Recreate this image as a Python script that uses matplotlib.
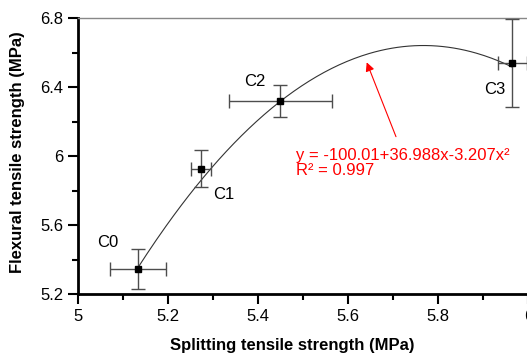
import numpy as np
import matplotlib
matplotlib.use("Agg")
import matplotlib.pyplot as plt
from matplotlib.ticker import MultipleLocator

plt.rcParams["font.family"] = ["Liberation Sans", "DejaVu Sans"]

# Datos
labels = ["C0", "C1", "C2", "C3"]
splitting = [5.133, 5.273, 5.449, 5.964]
splitting_err = [0.063, 0.022, 0.114, 0.032]
flexural = [5.345, 5.925, 6.319, 6.541]
flexural_err = [0.115, 0.107, 0.091, 0.256]

# Coeficientes del ajuste cuadrático (del texto del gráfico)
fit_coef = [-100.01, 36.988, -3.207]
fit_text = "y = -100.01+36.988x-3.207x\u00b2\nR\u00b2 = 0.997"

label_pos = [(5.065, 5.496), (5.324, 5.774), (5.392, 6.431), (5.926, 6.387)]

fig = plt.figure(figsize=(5.27, 3.56), dpi=100)
ax = fig.add_axes([78 / 527, 1 - 294 / 356, 450.4 / 527, 276 / 356])

# Curva de ajuste
xf = np.linspace(splitting[0], splitting[-1], 200)
yf = fit_coef[0] + fit_coef[1] * xf + fit_coef[2] * xf**2
ax.plot(xf, yf, color="#333333", lw=0.8, zorder=2)

ax.errorbar(
    splitting, flexural, xerr=splitting_err, yerr=flexural_err,
    fmt="s", color="black", ms=4.5, ecolor="#4d4d4d", elinewidth=1.0,
    capsize=5, capthick=1.0, zorder=3,
)

for lab, (lx, ly) in zip(labels, label_pos):
    ax.text(lx, ly, lab, fontsize=12, ha="center", va="center")

ax.annotate(
    "", xy=(5.641, 6.543), xytext=(5.706, 6.112),
    arrowprops=dict(arrowstyle="-|>", color="red", lw=0.8,
                    mutation_scale=13, shrinkA=0, shrinkB=0),
)
ax.text(5.483, 5.958, fit_text, color="red", fontsize=12,
        ha="left", va="center", linespacing=1.0)

ax.set_xlim(5, 6)
ax.set_ylim(5.2, 6.8)
ax.xaxis.set_major_locator(MultipleLocator(0.2))
ax.xaxis.set_minor_locator(MultipleLocator(0.1))
ax.yaxis.set_major_locator(MultipleLocator(0.4))
ax.yaxis.set_minor_locator(MultipleLocator(0.2))
ax.xaxis.set_major_formatter(plt.FuncFormatter(lambda v, p: f"{v:g}"))
ax.yaxis.set_major_formatter(plt.FuncFormatter(lambda v, p: f"{v:g}"))

ax.tick_params(which="major", direction="out", length=7, width=1.5, labelsize=12)
ax.tick_params(which="minor", direction="out", length=4, width=1.5)
ax.tick_params(top=False, right=False, which="both")

for side in ["left", "bottom"]:
    ax.spines[side].set_linewidth(2)
ax.spines["top"].set_color("#888888")
ax.spines["top"].set_linewidth(1)
ax.spines["right"].set_color("#888888")

ax.set_xlabel("Splitting tensile strength (MPa)", fontsize=12, fontweight="bold")
ax.set_ylabel("Flexural tensile strength (MPa)", fontsize=12, fontweight="bold")
ax.xaxis.set_label_coords((292 - 78) / 450.4, -44 / 276)
ax.yaxis.set_label_coords(-53 / 450.4, (294 - 152) / 276)

fig.savefig("out.png", dpi=100)
